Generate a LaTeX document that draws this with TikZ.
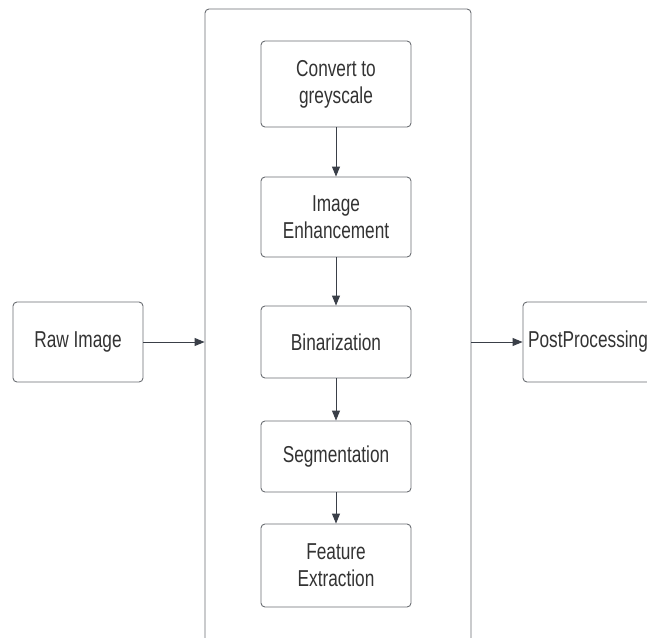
\documentclass[tikz,border=0pt]{standalone}
\usepackage{fontspec}
\setmainfont{Liberation Sans}[FakeStretch=0.75]
\usetikzlibrary{arrows.meta, positioning, calc}
\definecolor{boxline}{HTML}{6B6E73}
\definecolor{arrowline}{HTML}{3A3F48}
\definecolor{labeltext}{HTML}{333333}

\begin{document}
\begin{tikzpicture}[x=1pt, y=-1pt,
    stage/.style={rectangle, rounded corners=4pt, draw=boxline, line width=0.9pt, fill=white, minimum width=#1, inner sep=2pt, align=center, text=labeltext, font=\fontsize{23}{27}\selectfont},
    stage/.default=150pt,
    arrow/.style={-{Triangle[length=10pt, width=8pt]}, line width=0.9pt, color=arrowline}
]

% Canvas
\fill[white] (0,0) rectangle (647,637);
\useasboundingbox (0,0) rectangle (647,637);
\clip (0,0) rectangle (647,637);

% Pipeline container
\node[stage=266pt, minimum height=658pt] (stages) at (338,338) {};

% Inner stages
\node[stage, minimum height=86pt] (conv) at (336,84) {Convert to\\greyscale};
\node[stage, minimum height=80pt] (enh) at (336,217) {Image\\Enhancement};
\node[stage, minimum height=72pt] (bin) at (336,342) {Binarization};
\node[stage, minimum height=71pt] (seg) at (336,456.5) {Segmentation};
\node[stage, minimum height=83pt] (feat) at (336,565.5) {Feature\\Extraction};

% Input and output
\node[stage=130pt, minimum height=80pt] (raw) at (78,342) {Raw Image};
\node[stage=130pt, minimum height=80pt] (post) at (588,342) {PostProcessing};

% Arrows
\draw[arrow] (conv) -- (enh);
\draw[arrow] (enh) -- (bin);
\draw[arrow] (bin) -- (seg);
\draw[arrow] (seg) -- (feat);
\draw[arrow] (raw.east) -- (raw.east -| stages.west);
\draw[arrow] (post.west -| stages.east) -- (post.west);

\end{tikzpicture}
\end{document}
